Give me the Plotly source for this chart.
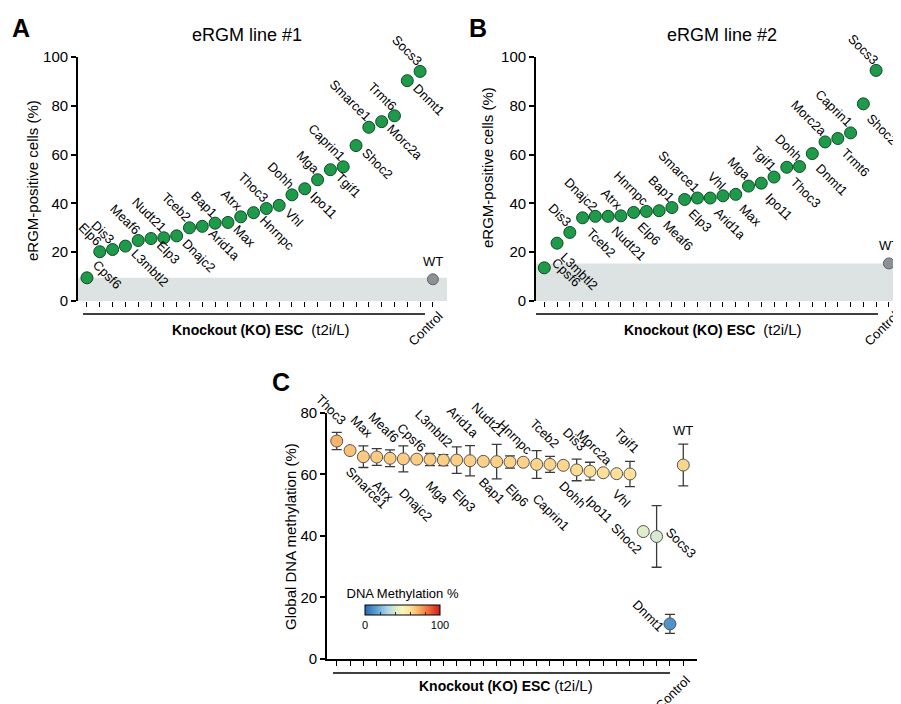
import plotly.graph_objects as go

OFF = 8                      # page body margin of the html page
W, H = 901 - OFF, 704 - OFF  # figure size so that it fills the window
FONT = "Liberation Sans, Arial, Helvetica, sans-serif"

# ---------------- data ----------------
genes_a = ["Cpsf6", "Elp6", "Dis3", "L3mbtl2", "Meaf6", "Elp3", "Nudt21", "Dnajc2", "Tceb2",
           "Arid1a", "Bap1", "Max", "Atrx", "Hnrnpc", "Thoc3", "Vhl", "Dohh", "Ipo11", "Mga",
           "Tgif1", "Caprin1", "Shoc2", "Smarce1", "Morc2a", "Trmt6", "Dnmt1", "Socs3"]
pct_a = [9.5, 20.2, 21.1, 22.5, 24.8, 25.6, 25.9, 26.7, 30.0, 30.6, 31.9, 32.2, 34.5, 36.2,
         37.9, 39.2, 43.5, 46.0, 49.7, 53.8, 55.0, 63.7, 71.2, 73.5, 75.9, 90.3, 94.1]
wt_a = 8.9
band_a = 9.5
side_a = ["r", "a", "a", "b", "a", "b", "a", "b", "a", "b", "a", "b", "a", "b", "a", "b",
          "a", "b", "a", "b", "a", "b", "a", "b", "a", "b", "a"]

genes_b = ["Cpsf6", "L3mbtl2", "Dis3", "Tceb2", "Dnajc2", "Nudt21", "Atrx", "Elp6", "Hnrnpc",
           "Meaf6", "Bap1", "Elp3", "Smarce1", "Arid1a", "Vhl", "Max", "Mga", "Ipo11", "Tgif1",
           "Thoc3", "Dohh", "Dnmt1", "Morc2a", "Trmt6", "Caprin1", "Shoc2", "Socs3"]
pct_b = [13.6, 23.7, 28.1, 34.1, 34.7, 34.7, 34.9, 36.3, 36.7, 37.0, 38.3, 41.6, 42.2, 42.2,
         43.1, 43.7, 47.1, 48.3, 50.8, 54.8, 55.1, 60.4, 65.2, 66.6, 68.9, 80.8, 94.5]
wt_b = 15.4
band_b = 15.4
side_b = ["r", "b", "a", "b", "a", "b", "a", "b", "a", "b", "a", "b", "a", "b", "a", "b",
          "a", "b", "a", "b", "a", "b", "a", "b", "a", "b", "a"]

genes_c = ["Thoc3", "Smarce1", "Max", "Atrx", "Meaf6", "Dnajc2", "Cpsf6", "Mga", "L3mbtl2",
           "Elp3", "Arid1a", "Bap1", "Nudt21", "Elp6", "Hnrnpc", "Caprin1", "Tceb2", "Dohh",
           "Dis3", "Ipo11", "Morc2a", "Vhl", "Tgif1", "Shoc2", "Socs3", "Dnmt1"]
meth_c = [70.8, 67.7, 65.7, 65.6, 65.2, 65.0, 64.9, 64.8, 64.6, 64.6, 64.4, 64.2, 64.1, 64.0,
          63.9, 63.2, 63.2, 62.9, 61.4, 61.0, 60.5, 60.2, 60.1, 41.4, 39.8, 11.4]
err_c = [2.8, 0, 3.5, 2.7, 2.7, 4.2, 0, 2.0, 1.8, 4.3, 4.9, 0, 5.6, 2.0, 0, 4.5, 2.6, 0, 3.5,
         2.9, 0, 0, 4.1, 0, 10.0, 3.1]
side_c = ["a", "b", "a", "b", "a", "b", "a", "b", "a", "b", "a", "b", "a", "b", "a", "b", "a",
          "b", "a", "b", "a", "b", "a", "l", "r", "l2"]
wt_c = 63.0
wt_c_err = 6.8

ticks_ab = [0, 20, 40, 60, 80, 100]
ticks_c = [0, 20, 40, 60, 80]
cbar_ticks = [0, 20, 40, 60, 80, 100]
cbar_text = ["0", "", "", "", "", "100"]

# ---------------- helpers ----------------
def px(p):
    return (p - OFF) / W


def py(p):
    return 1 - (p - OFF) / H


GREEN = "#1f9a4b"
GREEN_EDGE = "#0d4a24"
GREY_PT = "#8d9196"
BAND = "#dde2e2"
CSCALE = [[0, "#2a68b0"], [0.15, "#5d9fd0"], [0.3, "#aed6e8"], [0.42, "#deefc8"],
          [0.5, "#fbf5be"], [0.6, "#fde29a"], [0.7, "#fbb86c"], [0.85, "#f06a3a"],
          [1, "#c81e1e"]]

fig = go.Figure()
ann = []
shapes = []


def label_font(size=13):
    return dict(family=FONT, size=size, color="black")


def add_gene_labels(genes, vals, sides, xr, yr, shifts, errs=None):
    for i, (g, v, s) in enumerate(zip(genes, vals, sides)):
        x = i + 1
        e = errs[i] if errs else 0
        sx, sy = shifts[s]
        if s == "a":
            ann.append(dict(x=x, y=v + e, xref=xr, yref=yr, text=g, showarrow=False,
                            textangle=45, xanchor="right", yanchor="bottom",
                            xshift=sx, yshift=sy, font=label_font()))
        elif s == "b":
            ann.append(dict(x=x, y=v - e, xref=xr, yref=yr, text=g, showarrow=False,
                            textangle=45, xanchor="left", yanchor="top",
                            xshift=sx, yshift=sy, font=label_font()))
        else:
            ann.append(dict(x=x, y=v, xref=xr, yref=yr, text=g, showarrow=False,
                            textangle=45, xanchor="center", yanchor="middle",
                            xshift=sx, yshift=sy, font=label_font()))


def scatter_panel(genes, vals, wt, band, sides, xr, yr, shifts):
    n = len(genes)
    xs = list(range(1, n + 1))
    fig.add_trace(go.Scatter(x=xs, y=vals, mode="markers", xaxis=xr, yaxis=yr,
                             cliponaxis=False, showlegend=False, hoverinfo="skip",
                             marker=dict(size=12, color=GREEN,
                                         line=dict(color=GREEN_EDGE, width=1))))
    fig.add_trace(go.Scatter(x=[n + 1], y=[wt], mode="markers", xaxis=xr, yaxis=yr,
                             cliponaxis=False, showlegend=False, hoverinfo="skip",
                             marker=dict(size=11, color=GREY_PT,
                                         line=dict(color="#5f6266", width=1))))
    shapes.append(dict(type="rect", xref=xr + " domain", yref=yr, x0=0, x1=1, y0=0, y1=band,
                       fillcolor=BAND, line=dict(width=0), layer="below"))
    add_gene_labels(genes, vals, sides, xr, yr, shifts)
    ann.append(dict(x=n + 1, y=wt, xref=xr, yref=yr, text="WT", showarrow=False,
                    xanchor="center", yanchor="bottom", yshift=8, font=label_font(13)))


scatter_panel(genes_a, pct_a, wt_a, band_a, side_a, "x", "y",
              {"a": (8, 0), "b": (0, 3), "r": (20, 3)})
scatter_panel(genes_b, pct_b, wt_b, band_b, side_b, "x2", "y2",
              {"a": (8, 0), "b": (-2, -4), "r": (22, -5)})

# Panel C
nc = len(genes_c)
xs_c = list(range(1, nc + 1))
fig.add_trace(go.Scatter(
    x=xs_c + [nc + 1], y=meth_c + [wt_c], mode="markers", xaxis="x3", yaxis="y3",
    cliponaxis=False, showlegend=False, hoverinfo="skip",
    error_y=dict(type="data", array=err_c + [wt_c_err], color="#3a3a3a", thickness=1.3,
                 width=5),
    marker=dict(size=12, color=meth_c + [wt_c], colorscale=CSCALE, cmin=0, cmax=100,
                line=dict(color="#555555", width=1), showscale=True,
                colorbar=dict(orientation="h", x=px(402.5), xanchor="center",
                              y=py(590), yanchor="top", ypad=0, xpad=0,
                              len=75, lenmode="pixels", thickness=10,
                              outlinewidth=1, outlinecolor="black",
                              tickvals=cbar_ticks, ticktext=cbar_text,
                              ticks="inside", ticklen=3, tickcolor="#333",
                              tickfont=dict(family=FONT, size=11, color="black"),
                              title=dict(text="DNA Methylation %", side="top",
                                         font=dict(family=FONT, size=13, color="black"))))))
add_gene_labels(genes_c, meth_c, side_c, "x3", "y3",
                {"a": (15, 2), "b": (-10, -10), "r": (24, -6), "l": (-17, -7),
                 "l2": (-22, 8)}, errs=err_c)
ann.append(dict(x=nc + 1, y=wt_c + wt_c_err, xref="x3", yref="y3", text="WT",
                showarrow=False, xanchor="center", yanchor="bottom", yshift=4,
                font=label_font(13)))

# ---------------- axes ----------------
def xaxis(domain, rng, n, anchor, line=False):
    return dict(domain=domain, range=rng, tickvals=list(range(1, n + 2)), ticks="outside",
                ticklen=5, tickwidth=1.2, tickcolor="black", showticklabels=False,
                showgrid=False, zeroline=False, showline=line, linecolor="black",
                linewidth=1.5, fixedrange=True, automargin=False, anchor=anchor)


def yaxis(domain, rng, tv, anchor):
    return dict(domain=domain, range=rng, tickvals=tv, ticks="outside", ticklen=5,
                tickwidth=1.5, tickcolor="black", showgrid=False, zeroline=False,
                showline=True, linecolor="black", linewidth=1.8, anchor=anchor,
                tickfont=dict(family=FONT, size=15, color="black"), fixedrange=True,
                automargin=False)


fig.update_layout(
    xaxis=xaxis([px(78), px(447)], [0.3, 29.1], len(genes_a), "y"),
    yaxis=yaxis([py(301), py(57)], [0, 100], ticks_ab, "x"),
    xaxis2=xaxis([px(536), min(1.0, px(901))], [0.35, 28.95], len(genes_b), "y2"),
    yaxis2=yaxis([py(301), py(57)], [0, 100], ticks_ab, "x2"),
    xaxis3=xaxis([px(327), px(697)], [0.27, 28.03], nc, "y3", line=True),
    yaxis3=yaxis([py(659), py(412.7)], [0, 80], ticks_c, "x3"),
)

# ---------------- decorations ----------------
def ptext(x, y, text, size, bold=False, angle=0):
    ann.append(dict(x=px(x), y=py(y), xref="paper", yref="paper", showarrow=False,
                    textangle=angle, xanchor="center", yanchor="middle",
                    text=("<b>%s</b>" % text) if bold else text,
                    font=dict(family=FONT, size=size, color="black")))


ptext(21, 28, "A", 25, bold=True)
ptext(478, 28, "B", 25, bold=True)
ptext(281, 382, "C", 25, bold=True)
ptext(247, 35, "eRGM line #1", 18)
ptext(722, 35, "eRGM line #2", 18)
ptext(32, 181, "eRGM-positive cells (%)", 15, angle=-90)
ptext(487, 167, "eRGM-positive cells (%)", 15, angle=-90)
ptext(290, 537, "Global DNA methylation (%)", 15, angle=-90)

ko = "<b>Knockout (KO) ESC</b>&#160;&#160;<span style='font-size:15px'>(t2i/L)</span>"
ptext(261, 329, ko, 14)
ptext(713, 329, ko, 14)
ko_c = "<b>Knockout (KO) ESC</b>&#160;<span style='font-size:15px'>(t2i/L)</span>"
ptext(506, 685, ko_c, 14)

for xr, n, ytop, xs in (("x", len(genes_a), 306, 16), ("x2", len(genes_b), 306, 16),
                        ("x3", nc, 670, 13)):
    ann.append(dict(x=n + 1, y=py(ytop), xref=xr, yref="paper", text="Control",
                    showarrow=False, textangle=-45, xanchor="right", yanchor="top",
                    xshift=xs, font=label_font(13)))

# underline bars
for x0, x1, y in ((83, 425, 314), (536, 878, 314), (333, 670, 673)):
    shapes.append(dict(type="line", xref="paper", yref="paper", x0=px(x0), x1=px(x1),
                       y0=py(y), y1=py(y), line=dict(color="black", width=1.5)))

fig.update_layout(
    width=W, height=H, margin=dict(l=0, r=0, t=0, b=0, autoexpand=False), autosize=False,
    paper_bgcolor="white", plot_bgcolor="white",
    font=dict(family=FONT, color="black"),
    annotations=ann, shapes=shapes, showlegend=False,
)

fig.write_html("out.html")
